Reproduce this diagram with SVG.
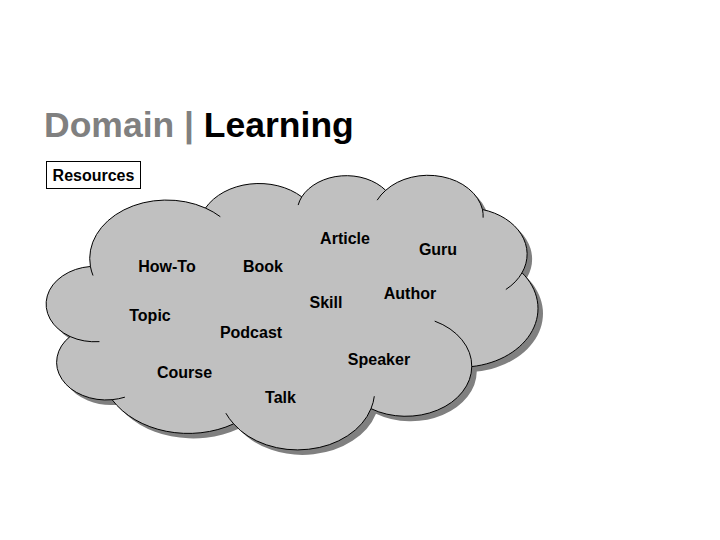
<svg xmlns="http://www.w3.org/2000/svg" width="720" height="540" viewBox="0 0 720 540">
  <defs>
    <style>
      .title { font-family: "Liberation Sans", Arial, sans-serif; font-weight: bold; font-size: 35.5px; }
      .lbl { font-family: "Liberation Sans", Arial, sans-serif; font-weight: bold; font-size: 16px; fill: #000; text-anchor: middle; }
      .cloud { fill: #C0C0C0; stroke: #000; stroke-width: 1; }
      .shadow { fill: #808080; stroke: none; }
      .tail { fill: none; stroke: #000; stroke-width: 1; }
    </style>
    <path id="cloudPath" d="M 90.42 266.48 A 76.91 58.50 0 0 1 205.44 208.05 A 60.74 46.26 0 0 1 301.75 196.85 A 49.71 37.84 0 0 1 385.69 190.34 A 55.32 41.98 0 0 1 482.47 209.54 A 60.74 46.30 0 0 1 522.03 272.74 A 77.16 58.69 0 0 1 471.76 366.59 A 65.88 50.08 0 0 1 370.99 408.67 A 76.90 58.66 0 0 1 233.67 423.84 A 87.92 67.11 0 0 1 112.08 399.68 A 49.66 37.67 0 0 1 70.04 336.52 A 49.48 37.84 0 0 1 90.42 266.48 Z"/>
  </defs>
  <rect width="720" height="540" fill="#FFFFFF"/>

  <g id="title">
    <text class="title" x="44" y="137"><tspan fill="#808080">Domain | </tspan><tspan fill="#000000">Learning</tspan></text>
  </g>

  <g id="resources">
    <rect x="46.5" y="161.5" width="94" height="27" fill="#FFFFFF" stroke="#000000" stroke-width="1"/>
    <text class="lbl" x="93.5" y="181">Resources</text>
  </g>

  <g id="cloud">
    <use href="#cloudPath" class="shadow" transform="translate(5,5)"/>
    <use href="#cloudPath" class="cloud"/>
    <path class="tail" d="M 99.45 341.63 A 49.48 37.84 0 0 1 70.04 336.52 M 124.90 397.16 A 49.66 37.67 0 0 1 112.08 399.68 M 233.67 423.84 A 76.90 58.66 0 0 1 225.86 413.19 M 374.31 396.22 A 76.90 58.66 0 0 1 370.99 408.67 M 434.69 321.12 A 65.88 50.08 0 0 1 471.76 366.59 M 522.03 272.74 A 60.74 46.30 0 0 1 505.84 289.49 M 482.47 209.54 A 55.32 41.98 0 0 1 483.12 217.65 M 377.17 200.16 A 55.32 41.98 0 0 1 385.69 190.34 M 298.16 205.05 A 49.71 37.84 0 0 1 301.75 196.85 M 205.44 208.05 A 76.91 58.50 0 0 1 220.31 216.70 M 93.00 275.51 A 76.91 58.50 0 0 1 90.42 266.48"/>
  </g>

  <g id="connectors"></g>

  <g id="node-howto"><text class="lbl" x="167" y="272">How-To</text></g>
  <g id="node-book"><text class="lbl" x="263" y="272">Book</text></g>
  <g id="node-article"><text class="lbl" x="345" y="244">Article</text></g>
  <g id="node-guru"><text class="lbl" x="438" y="255">Guru</text></g>
  <g id="node-skill"><text class="lbl" x="326" y="308">Skill</text></g>
  <g id="node-author"><text class="lbl" x="410" y="299">Author</text></g>
  <g id="node-topic"><text class="lbl" x="150" y="321">Topic</text></g>
  <g id="node-podcast"><text class="lbl" x="251" y="338">Podcast</text></g>
  <g id="node-speaker"><text class="lbl" x="379" y="365">Speaker</text></g>
  <g id="node-course"><text class="lbl" x="184.5" y="378">Course</text></g>
  <g id="node-talk"><text class="lbl" x="280.5" y="403">Talk</text></g>
</svg>
